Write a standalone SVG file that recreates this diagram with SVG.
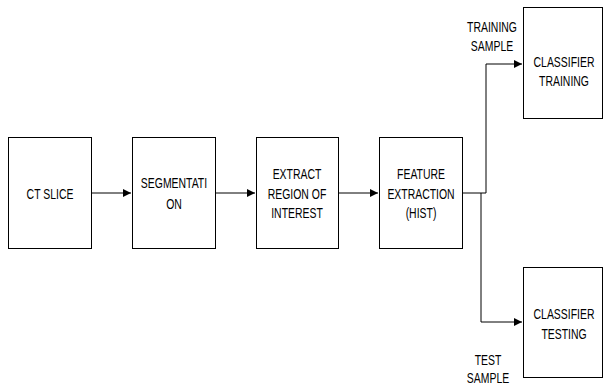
<svg xmlns="http://www.w3.org/2000/svg" width="603" height="383" viewBox="0 0 603 383">
<style>
.box{fill:#fff;stroke:#000;stroke-width:1}
.t{font-family:"Liberation Sans",Arial,sans-serif;font-size:14.5px;fill:#000;text-anchor:middle}
.c{fill:none;stroke:#000;stroke-width:1}
</style>
<defs>
<marker id="ah" markerWidth="8" markerHeight="8" refX="8" refY="4" orient="auto" markerUnits="userSpaceOnUse">
<path d="M0,0 L8,4 L0,8 Z" fill="#000"/>
</marker>
</defs>
<rect width="603" height="383" fill="#fff"/>
<g id="connectors">
<path class="c" d="M92,193 H131" marker-end="url(#ah)"/>
<path class="c" d="M215,193 H255" marker-end="url(#ah)"/>
<path class="c" d="M338,193 H378" marker-end="url(#ah)"/>
<path class="c" d="M462,193 H486 V64 H522" marker-end="url(#ah)"/>
<path class="c" d="M481,193 V322 H522" marker-end="url(#ah)"/>
</g>
<g id="ct-slice">
<rect class="box" x="8.5" y="137.5" width="83" height="111"/>
<text class="t" transform="translate(50,198.5) scale(0.72,1)">CT SLICE</text>
</g>
<g id="segmentation">
<rect class="box" x="132.5" y="137.5" width="83" height="111"/>
<text class="t" transform="translate(174,188) scale(0.72,1)">SEGMENTATI</text>
<text class="t" transform="translate(174,209) scale(0.72,1)">ON</text>
</g>
<g id="extract-roi">
<rect class="box" x="256.5" y="137.5" width="82" height="111"/>
<text class="t" transform="translate(297,179) scale(0.72,1)">EXTRACT</text>
<text class="t" transform="translate(297,199) scale(0.72,1)">REGION OF</text>
<text class="t" transform="translate(297,218) scale(0.72,1)">INTEREST</text>
</g>
<g id="feature-extraction">
<rect class="box" x="379.5" y="137.5" width="83" height="111"/>
<text class="t" transform="translate(421,179) scale(0.72,1)">FEATURE</text>
<text class="t" transform="translate(421,199) scale(0.72,1)">EXTRACTION</text>
<text class="t" transform="translate(421,218) scale(0.72,1)">(HIST)</text>
</g>
<g id="classifier-training">
<rect class="box" x="523.5" y="7.5" width="79" height="111"/>
<text class="t" transform="translate(564,67) scale(0.72,1)">CLASSIFIER</text>
<text class="t" transform="translate(564,86) scale(0.72,1)">TRAINING</text>
</g>
<g id="classifier-testing">
<rect class="box" x="523.5" y="267.5" width="79" height="110"/>
<text class="t" transform="translate(564,318.5) scale(0.72,1)">CLASSIFIER</text>
<text class="t" transform="translate(564,338.5) scale(0.72,1)">TESTING</text>
</g>
<g id="labels">
<text class="t" transform="translate(492,32) scale(0.72,1)">TRAINING</text>
<text class="t" transform="translate(492,51) scale(0.72,1)">SAMPLE</text>
<text class="t" transform="translate(488,365) scale(0.72,1)">TEST</text>
<text class="t" transform="translate(488,383) scale(0.72,1)">SAMPLE</text>
</g>
</svg>
